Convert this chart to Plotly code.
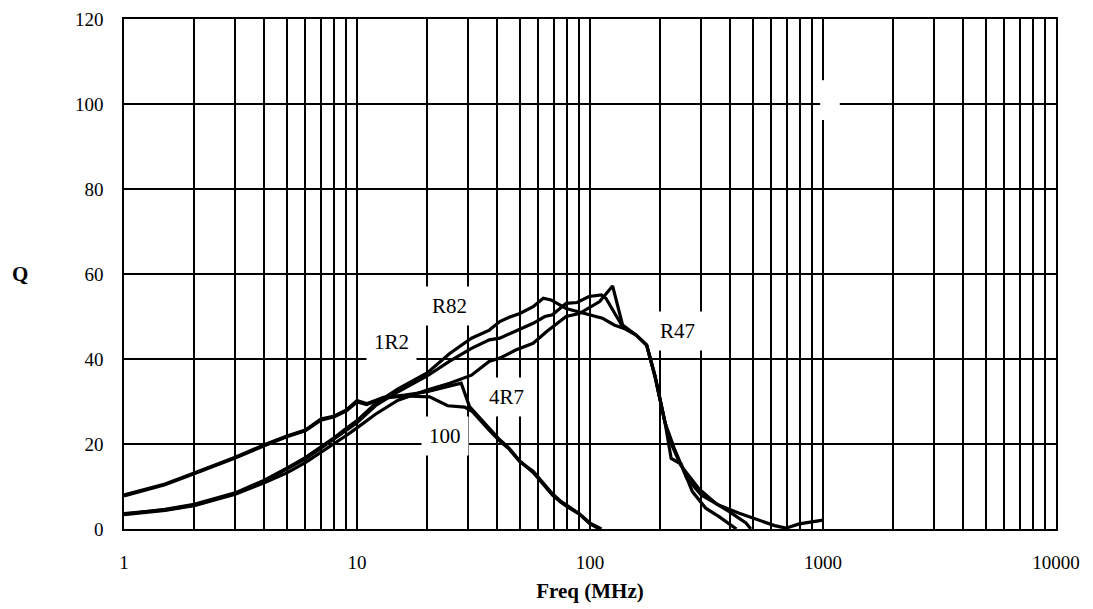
import plotly.graph_objects as go

# ---- data (Q vs frequency, MHz) ----
f_R82 = [1, 1.5, 2, 3, 4, 5, 6, 7, 8, 9, 10, 12, 15, 20, 25, 31, 37, 41, 45, 50, 57, 63, 68, 79, 96, 113, 127, 140, 158, 175, 190, 210, 220, 245, 294, 347, 396, 467, 490]
q_R82 = [3.5, 4.6, 5.8, 8.5, 11.5, 14.3, 16.8, 19.3, 21.5, 23.7, 25.5, 29.5, 33, 36.7, 41.3, 44.9, 46.8, 48.8, 49.8, 50.7, 52.3, 54.3, 53.9, 51.9, 50.7, 49.6, 48, 47.2, 45.6, 43.3, 36, 25, 20.9, 15, 9.4, 6, 4.1, 1.4, 0]

f_1R2 = [1, 1.5, 2, 3, 4, 5, 6, 7, 8, 9, 10, 12, 15, 20, 25, 31, 37, 41, 47, 51, 57, 64, 69, 79, 88, 99, 112, 117, 138, 158, 175, 190, 210, 223, 246, 275, 314, 358, 409, 425]
q_1R2 = [3.6, 4.5, 5.6, 8.3, 11.2, 14, 16.5, 19, 21.2, 23.3, 25, 29, 32.3, 36, 39.5, 42.5, 44.5, 44.9, 46.4, 47.2, 48.4, 50, 50.4, 53.1, 53.3, 54.7, 55.1, 54.3, 47.6, 45.6, 43.3, 36, 25, 16.6, 15.3, 8.8, 4.9, 2.9, 0.5, 0]

f_R47 = [1, 1.5, 2, 3, 4, 5, 6, 7, 8, 9, 10, 12, 15, 20, 25, 31, 37, 41, 48, 57, 65, 79, 90, 110, 125, 138, 158, 175, 190, 210, 230, 260, 300, 358, 437, 532, 620, 693, 790, 1000]
q_R47 = [3.4, 4.4, 5.5, 8.2, 10.9, 13.2, 15.6, 18, 20, 22, 23.8, 27, 30.3, 32.7, 34.3, 36.2, 39.5, 40.2, 42.1, 43.7, 46.4, 50, 50.7, 53.5, 57.2, 48, 45.6, 43.3, 36, 25, 19, 12, 8, 5.6, 3.7, 2.1, 0.8, 0.2, 1.2, 2.1]

f_4R7 = [1, 1.5, 2, 3, 4, 5, 6, 7, 8, 9, 10, 11, 13, 16, 20, 23, 28, 30.4, 37, 41, 45, 50, 57, 63, 69, 75, 80, 90, 100, 110]
q_4R7 = [8.0, 10.6, 13.2, 16.9, 19.8, 21.9, 23.3, 25.9, 26.6, 28, 30.2, 29.5, 31, 31.5, 32.3, 33.2, 34.3, 28.8, 23.5, 21, 19, 16, 13.3, 10.5, 8, 6.3, 5.2, 3.5, 1.2, 0]

f_100 = [1, 1.5, 2, 3, 4, 5, 6, 7, 8, 9, 10, 11, 13, 16, 20.5, 24.5, 29, 31.3, 37, 41, 45, 50, 57, 63, 69, 75, 80, 90, 100, 112]
q_100 = [7.8, 10.4, 13.0, 16.7, 19.6, 21.7, 23.1, 25.6, 26.4, 27.8, 29.9, 29.3, 30.8, 31.3, 31.1, 29, 28.7, 27.6, 23.2, 20.7, 18.8, 15.8, 13.6, 10.8, 8.3, 6.5, 5.4, 3.6, 1.4, 0]

series = [("R82", f_R82, q_R82), ("1R2", f_1R2, q_1R2), ("R47", f_R47, q_R47),
          ("4R7", f_4R7, q_4R7), ("100", f_100, q_100)]

# curve labels: (text, log10 freq, Q)
label_text = ["R82", "1R2", "R47", "4R7", "100"]
label_x = [1.397, 1.147, 2.375, 1.640, 1.376]
label_y = [52.4, 43.9, 46.6, 31.1, 21.8]

x_decades = [1, 10, 100, 1000, 10000]
y_ticks = [0, 20, 40, 60, 80, 100, 120]

FONT = "Liberation Serif, Times New Roman, serif"

fig = go.Figure()
for name, fx, qy in series:
    fig.add_trace(go.Scatter(x=fx, y=qy, mode="lines", name=name,
                             line=dict(color="black", width=3.2), showlegend=False))

# gridlines at every 1..9 x 10^k, labels only at decades
xtv, xtt = [], []
for d in x_decades[:-1]:
    for m in range(1, 10):
        xtv.append(d * m)
        xtt.append(str(d) if m == 1 else "")
xtv.append(x_decades[-1])
xtt.append(str(x_decades[-1]))

fig.update_xaxes(type="log", range=[0, 4], tickvals=xtv, ticktext=xtt,
                 showgrid=True, gridcolor="black", gridwidth=1.6,
                 showline=True, linecolor="black", linewidth=1.6, mirror=True,
                 ticks="", ticklabelstandoff=15, zeroline=False, automargin=False,
                 tickfont=dict(family=FONT, size=19, color="black"),
                 title=dict(text="<b>Freq (MHz)</b>", standoff=12,
                            font=dict(family=FONT, size=21, color="black")))
fig.update_yaxes(range=[0, 120], tickvals=y_ticks,
                 showgrid=True, gridcolor="black", gridwidth=1.6,
                 showline=True, linecolor="black", linewidth=1.6, mirror=True,
                 ticks="", ticklabelstandoff=15, zeroline=False, automargin=False,
                 tickfont=dict(family=FONT, size=19, color="black"))

for t, lx, ly in zip(label_text, label_x, label_y):
    fig.add_annotation(x=lx, y=ly, xref="x", yref="y", text=t, showarrow=False,
                       bgcolor="white", borderpad=7,
                       font=dict(family=FONT, size=21, color="black"))

# Y-axis title (horizontal)
fig.add_annotation(x=-0.112, y=0.5, xref="paper", yref="paper", text="<b>Q</b>",
                   xanchor="center", showarrow=False,
                   font=dict(family=FONT, size=21, color="black"))

# empty white label box near 1000 MHz / Q=100
fig.add_shape(type="rect", xref="paper", yref="paper", x0=0.747, x1=0.768,
              y0=0.802, y1=0.880, fillcolor="white", line=dict(width=0), layer="above")

fig.update_layout(width=1093, height=609, paper_bgcolor="white", plot_bgcolor="white",
                  margin=dict(l=116, r=45, t=11, b=88, autoexpand=False), showlegend=False)

fig.write_html("out.html")
